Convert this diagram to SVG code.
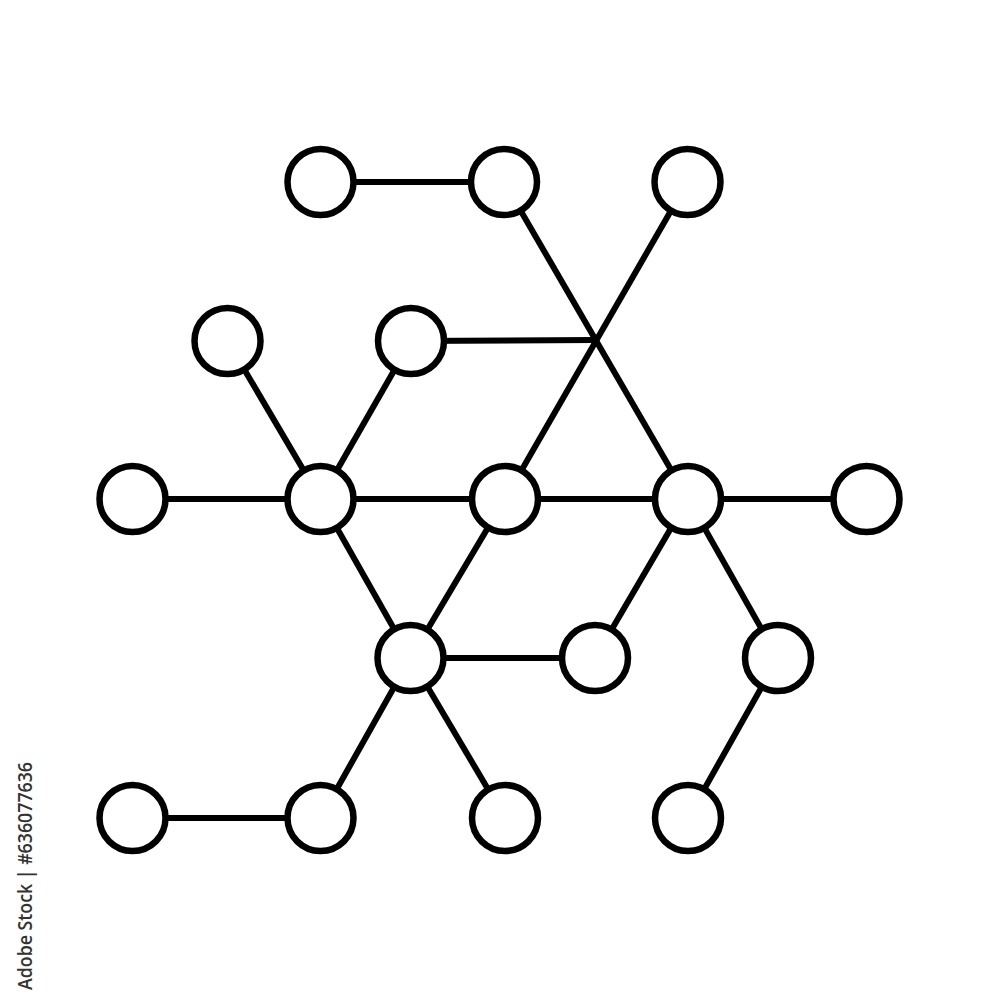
<svg xmlns="http://www.w3.org/2000/svg" width="1000" height="1000" viewBox="0 0 1000 1000">
  <style>
    .edge { stroke: #000; stroke-width: 6; stroke-linecap: butt; fill: none; }
    .node circle { fill: #fff; stroke: #000; stroke-width: 6.5; }
    .wm { font-family: "Open Sans", "Liberation Sans", sans-serif; font-size: 19.5px; font-weight: 600; fill: #333; }
  </style>
  <rect x="0" y="0" width="1000" height="1000" fill="#fff"/>
  <g id="connectors">
    <line class="edge" x1="320.5" y1="182" x2="504" y2="182"/>
    <line class="edge" x1="504" y1="182" x2="688" y2="499"/>
    <line class="edge" x1="687.5" y1="182" x2="505" y2="499"/>
    <line class="edge" x1="411" y1="341" x2="595" y2="340"/>
    <line class="edge" x1="227.5" y1="341" x2="320.5" y2="499"/>
    <line class="edge" x1="411" y1="341" x2="320.5" y2="499"/>
    <line class="edge" x1="132.5" y1="499" x2="866.5" y2="499"/>
    <line class="edge" x1="320.5" y1="499" x2="410.5" y2="658"/>
    <line class="edge" x1="505" y1="499" x2="410.5" y2="658"/>
    <line class="edge" x1="410.5" y1="658" x2="595" y2="658"/>
    <line class="edge" x1="688" y1="499" x2="595" y2="658"/>
    <line class="edge" x1="688" y1="499" x2="778" y2="658"/>
    <line class="edge" x1="778" y1="658" x2="688" y2="818"/>
    <line class="edge" x1="410.5" y1="658" x2="320.5" y2="818"/>
    <line class="edge" x1="410.5" y1="658" x2="505" y2="818"/>
    <line class="edge" x1="132.5" y1="818" x2="320.5" y2="818"/>
  </g>
  <g id="n1" class="node"><circle cx="320.5" cy="182" r="33"/></g>
  <g id="n2" class="node"><circle cx="504" cy="182" r="33"/></g>
  <g id="n3" class="node"><circle cx="687.5" cy="182" r="33"/></g>
  <g id="n4" class="node"><circle cx="227.5" cy="341" r="33"/></g>
  <g id="n5" class="node"><circle cx="411" cy="341" r="33"/></g>
  <g id="n6" class="node"><circle cx="132.5" cy="499" r="33"/></g>
  <g id="n7" class="node"><circle cx="320.5" cy="499" r="33"/></g>
  <g id="n8" class="node"><circle cx="505" cy="499" r="33"/></g>
  <g id="n9" class="node"><circle cx="688" cy="499" r="33"/></g>
  <g id="n10" class="node"><circle cx="866.5" cy="499" r="33"/></g>
  <g id="n11" class="node"><circle cx="410.5" cy="658" r="33"/></g>
  <g id="n12" class="node"><circle cx="595" cy="658" r="33"/></g>
  <g id="n13" class="node"><circle cx="778" cy="658" r="33"/></g>
  <g id="n14" class="node"><circle cx="132.5" cy="818" r="33"/></g>
  <g id="n15" class="node"><circle cx="320.5" cy="818" r="33"/></g>
  <g id="n16" class="node"><circle cx="505" cy="818" r="33"/></g>
  <g id="n17" class="node"><circle cx="688" cy="818" r="33"/></g>
  <text class="wm" transform="translate(32,990) rotate(-90)" x="0" y="0" textLength="228" lengthAdjust="spacingAndGlyphs">Adobe Stock | #636077636</text>
</svg>
